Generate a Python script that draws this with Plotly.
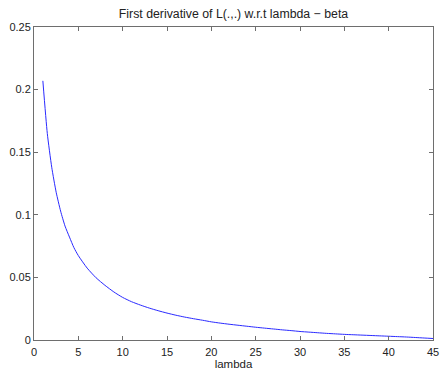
import plotly.graph_objects as go

lam = [1, 1.5, 2, 2.5, 3, 3.5, 4, 4.5, 5, 6, 7, 8, 9, 10,
       11, 12, 13, 14, 15, 16, 17, 18, 19, 20,
       21, 22, 23, 24, 25, 26, 27, 28, 29, 30,
       31, 32, 33, 34, 35, 36, 37, 38, 39, 40,
       41, 42, 43, 44, 45]
deriv = [0.207, 0.165, 0.138, 0.118, 0.103, 0.091, 0.0822, 0.0738, 0.0674, 0.0574, 0.0497, 0.0437, 0.0384, 0.0340,
         0.0306, 0.0279, 0.0255, 0.0234, 0.0215, 0.0198, 0.0183, 0.0170, 0.0158, 0.0145,
         0.0135, 0.0126, 0.0118, 0.0110, 0.0102, 0.0095, 0.0088, 0.0081, 0.0075, 0.0068,
         0.0063, 0.0058, 0.0053, 0.0049, 0.0045, 0.0042, 0.0039, 0.0036, 0.0033, 0.0030,
         0.0027, 0.0024, 0.0020, 0.0016, 0.0012]

x_ticks = [0, 5, 10, 15, 20, 25, 30, 35, 40, 45]
y_ticks = [0, 0.05, 0.1, 0.15, 0.2, 0.25]
y_tick_text = ["0", "0.05", "0.1", "0.15", "0.2", "0.25"]

title_text = "First derivative of L(.,.) w.r.t lambda \u2212 beta"
x_label = "lambda"

fig = go.Figure()
fig.add_trace(go.Scatter(x=lam, y=deriv, mode="lines", line_shape="spline",
                         line=dict(color="#2a2aff", width=1, smoothing=0.6), showlegend=False))

axis_common = dict(showline=True, linecolor="#6e6e6e", linewidth=1, mirror="ticks",
                   ticks="inside", ticklen=4, tickcolor="#6e6e6e", tickwidth=1,
                   showgrid=False, zeroline=False, automargin=False,
                   tickfont=dict(family="Liberation Sans, Arial", size=11, color="#222"))

fig.update_layout(
    width=441, height=371,
    margin=dict(l=34, r=8, t=27, b=31),
    paper_bgcolor="white", plot_bgcolor="white",
    title=dict(text=title_text, x=0.5, xanchor="center", y=1 - 14 / 371, yanchor="middle",
               xref="paper",
               font=dict(family="Liberation Sans, Arial", size=12.3, color="#222")),
    xaxis=dict(range=[0, 45], tickvals=x_ticks, ticktext=[str(v) for v in x_ticks],
               ticklabelstandoff=2,
               title=dict(text=x_label, standoff=1,
                          font=dict(family="Liberation Sans, Arial", size=11.5, color="#222")),
               **axis_common),
    yaxis=dict(range=[0, 0.25], tickvals=y_ticks, ticktext=y_tick_text, **axis_common),
)

fig.write_html("out.html")
